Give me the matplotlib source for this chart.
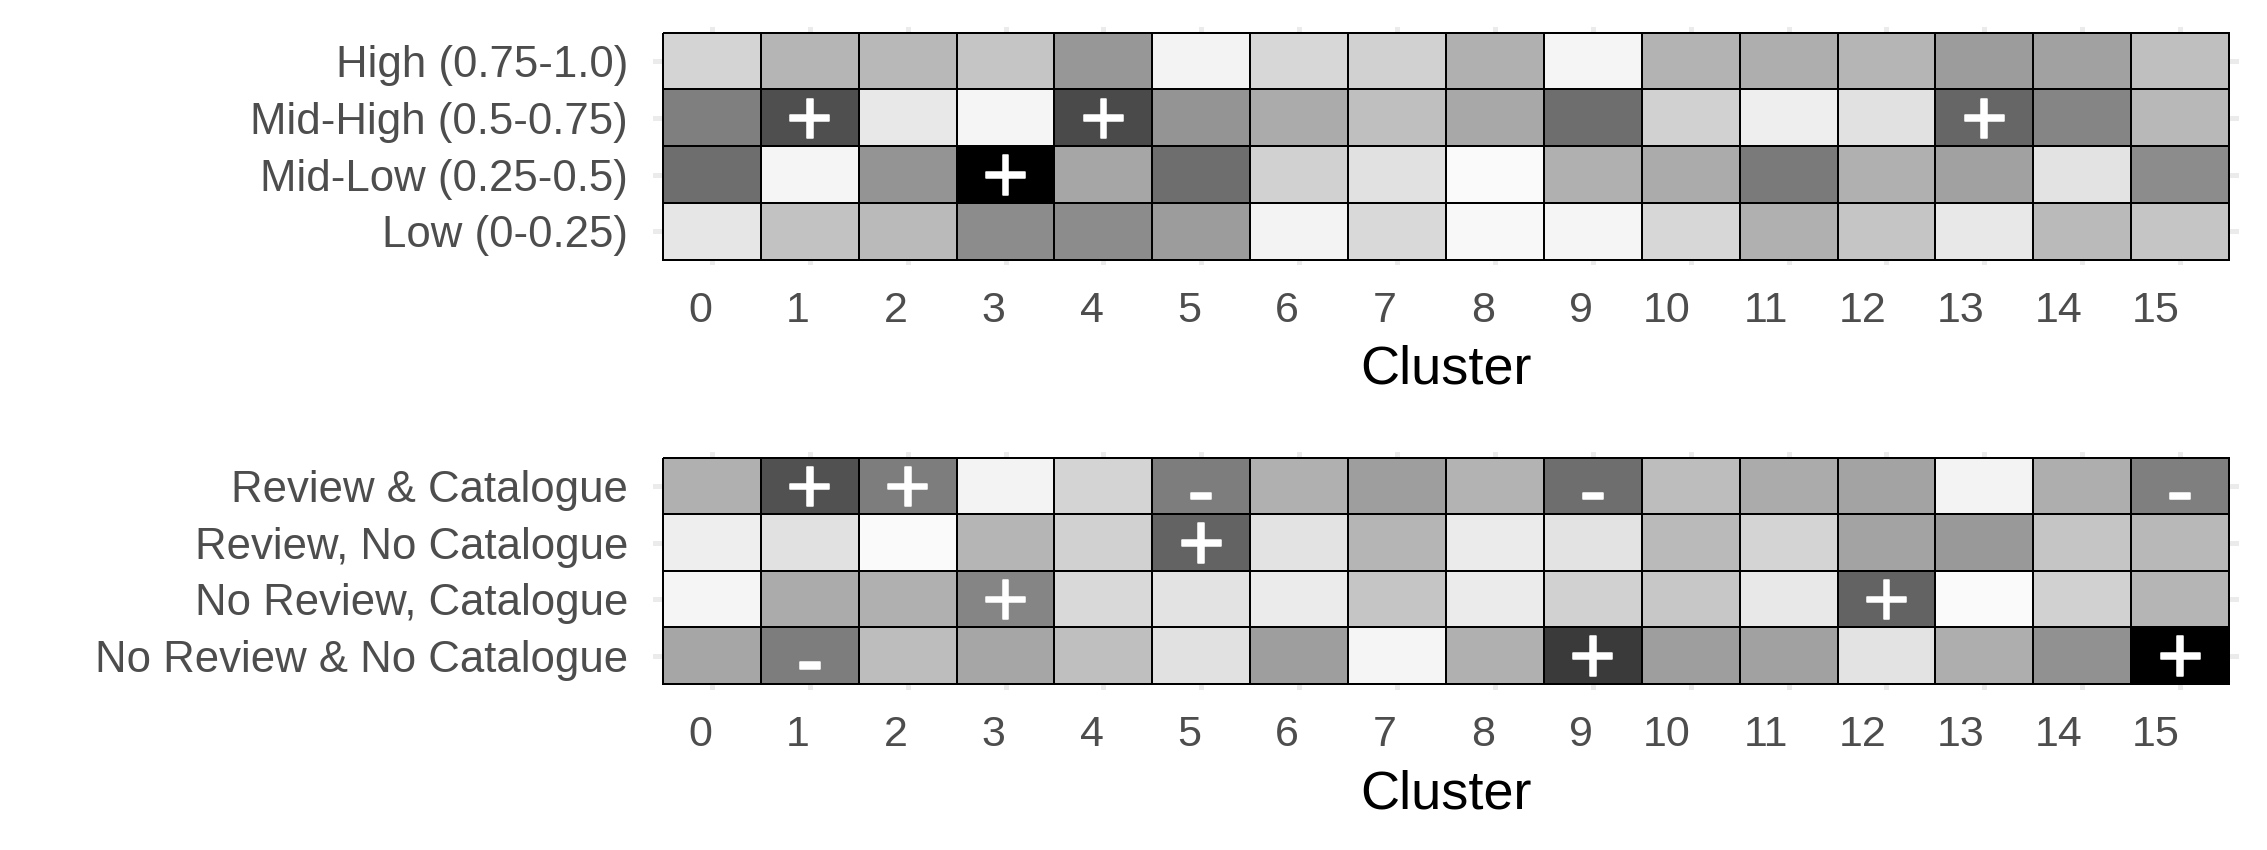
import matplotlib
matplotlib.use("Agg")
import matplotlib.pyplot as plt
import matplotlib.patheffects as pe
import numpy as np

plt.rcParams['font.family'] = ['Liberation Sans', 'DejaVu Sans']

clusters = list(range(16))

# Top panel: score bands (darkness of tile, percent)
band_labels = ["High (0.75-1.0)", "Mid-High (0.5-0.75)", "Mid-Low (0.25-0.5)", "Low (0-0.25)"]
band_high     = [17, 29, 28, 23, 41, 5, 16, 18, 31, 4, 30, 32, 29, 39, 37, 25]
band_midhigh  = [50, 69, 9, 4, 71, 42, 33, 25, 34, 57, 18, 7, 12, 60, 48, 28]
band_midlow   = [57, 4, 42, 100, 35, 57, 18, 12, 2, 31, 33, 52, 31, 37, 11, 45]
band_low      = [10, 24, 27, 45, 45, 39, 5, 15, 3, 4, 16, 31, 23, 9, 27, 23]
band_signs = [
    [""] * 16,
    ["", "+", "", "", "+", "", "", "", "", "", "", "", "", "+", "", ""],
    ["", "", "", "+", "", "", "", "", "", "", "", "", "", "", "", ""],
    [""] * 16,
]

# Bottom panel: review / catalogue groups
group_labels = ["Review & Catalogue", "Review, No Catalogue", "No Review, Catalogue", "No Review & No Catalogue"]
grp_rev_cat     = [31, 68, 51, 5, 17, 51, 31, 38, 30, 57, 26, 33, 36, 5, 32, 50]
grp_rev_nocat   = [7, 12, 2, 29, 18, 61, 11, 29, 8, 11, 27, 17, 36, 40, 23, 28]
grp_norev_cat   = [4, 33, 31, 48, 15, 11, 8, 23, 8, 18, 22, 9, 61, 2, 18, 29]
grp_norev_nocat = [35, 51, 26, 35, 25, 12, 38, 4, 31, 77, 38, 37, 11, 32, 43, 100]
group_signs = [
    ["", "+", "+", "", "", "-", "", "", "", "-", "", "", "", "", "", "-"],
    ["", "", "", "", "", "+", "", "", "", "", "", "", "", "", "", ""],
    ["", "", "", "+", "", "", "", "", "", "", "", "", "+", "", "", ""],
    ["", "-", "", "", "", "", "", "", "", "+", "", "", "", "", "", "+"],
]

W, H = 2267, 850
fig = plt.figure(figsize=(W / 100, H / 100), dpi=100)

def px2fig(x0, y0, x1, y1):
    return [x0 / W, 1 - y1 / H, (x1 - x0) / W, (y1 - y0) / H]

ax_top = fig.add_axes(px2fig(653.2, 27.0, 2238.8, 265.4))
ax_bot = fig.add_axes(px2fig(653.2, 452.0, 2238.8, 689.7))

def draw(ax, rows, ylabels, signs):
    data = np.array(rows, dtype=float)
    n_r, n_c = data.shape
    ax.set_axisbelow(True)
    ax.grid(True, color="#EBEBEB", linewidth=3.6, zorder=0)
    xe = np.arange(n_c + 1) - 0.5
    ye = np.arange(n_r + 1) - 0.5
    ax.pcolormesh(xe, ye, data, cmap="gray_r", vmin=0, vmax=100,
                  edgecolors="black", linewidth=1.1, zorder=2)
    for r in range(n_r):
        for c in range(n_c):
            s = signs[r][c]
            if s:
                dy = 0.18 if s == "-" else 0.11
                ax.text(clusters[c], r + dy, s, color="white", fontsize=58,
                        ha="center", va="center", zorder=3,
                        path_effects=[pe.withStroke(linewidth=1.1, foreground="white")])
    ax.set_xlim(-0.6, n_c - 0.4)
    ax.set_ylim(n_r - 0.4, -0.6)
    ax.set_xticks(range(n_c))
    ax.set_xticklabels([str(c) for c in clusters], ha="right")
    ax.set_yticks(range(n_r))
    ax.set_yticklabels(ylabels)
    ax.tick_params(axis="both", length=0, labelcolor="#4D4D4D")
    ax.tick_params(axis="x", pad=18.5, labelsize=31)
    ax.tick_params(axis="y", pad=18, labelsize=31.5)
    for sp in ax.spines.values():
        sp.set_visible(False)
    ax.set_xlabel("Cluster", fontsize=39, color="black", labelpad=10)

draw(ax_top, [band_high, band_midhigh, band_midlow, band_low], band_labels, band_signs)
draw(ax_bot, [grp_rev_cat, grp_rev_nocat, grp_norev_cat, grp_norev_nocat], group_labels, group_signs)

fig.savefig("out.png", dpi=100, facecolor="white")
